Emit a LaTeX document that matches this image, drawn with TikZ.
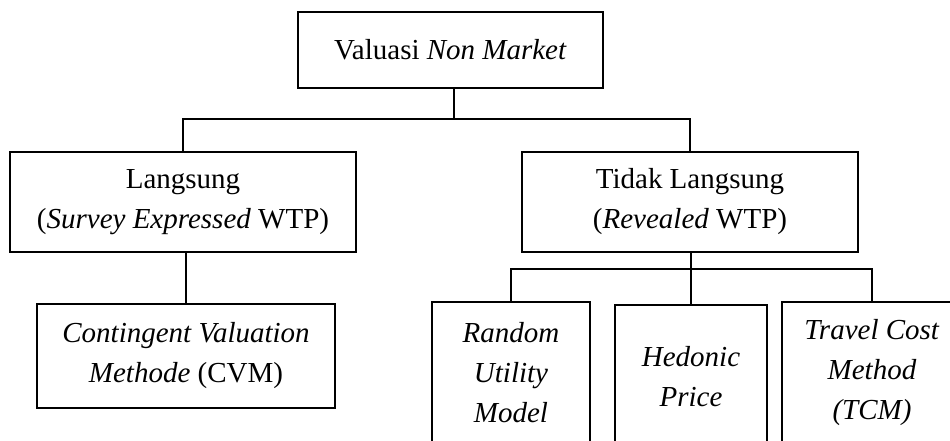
\documentclass[tikz,border=0pt]{standalone}
\usepackage{fontspec}
\setmainfont{Liberation Serif}
\begin{document}
\begin{tikzpicture}[x=1pt,y=-1pt,
  box/.style={draw,line width=1.2pt,rectangle,align=center,inner sep=0pt,
    font=\fontsize{29}{40}\selectfont},
  conn/.style={line width=1.2pt}]
\useasboundingbox (0,0) rectangle (950,441);
\clip (0,0) rectangle (950,441);
\node[box,minimum width=305,minimum height=76] (top) at (450.5,50) {Valuasi \textit{Non Market}};
\node[box,minimum width=346,minimum height=100] (lang) at (183,202) {Langsung\\(\textit{Survey Expressed} WTP)};
\node[box,minimum width=336,minimum height=100] (tidak) at (690,202) {Tidak Langsung\\(\textit{Revealed} WTP)};
\node[box,minimum width=298,minimum height=104] (cvm) at (186,356) {\textit{Contingent Valuation}\\\textit{Methode} (CVM)};
\node[box,minimum width=158,minimum height=142] (rum) at (511,373) {\textit{Random}\\\textit{Utility}\\\textit{Model}};
\node[box,minimum width=152,minimum height=144] (hed) at (691,377) {\textit{Hedonic}\\\textit{Price}};
\node[box,minimum width=180,minimum height=142] (tcm) at (872,373) {\textit{Travel Cost}\\\textit{Method}\\\textit{(TCM)}};
\coordinate (j1) at (454,119);
\coordinate (j2) at (691,269);
\draw[conn] (top.south -| j1) -- (j1);
\draw[conn] (lang.north) |- (j1) -| (tidak.north);
\draw[conn] (lang.south -| cvm.north) -- (cvm.north);
\draw[conn] (tidak.south -| j2) -- (hed.north);
\draw[conn] (rum.north) |- (j2) -| (tcm.north);
\end{tikzpicture}
\end{document}
